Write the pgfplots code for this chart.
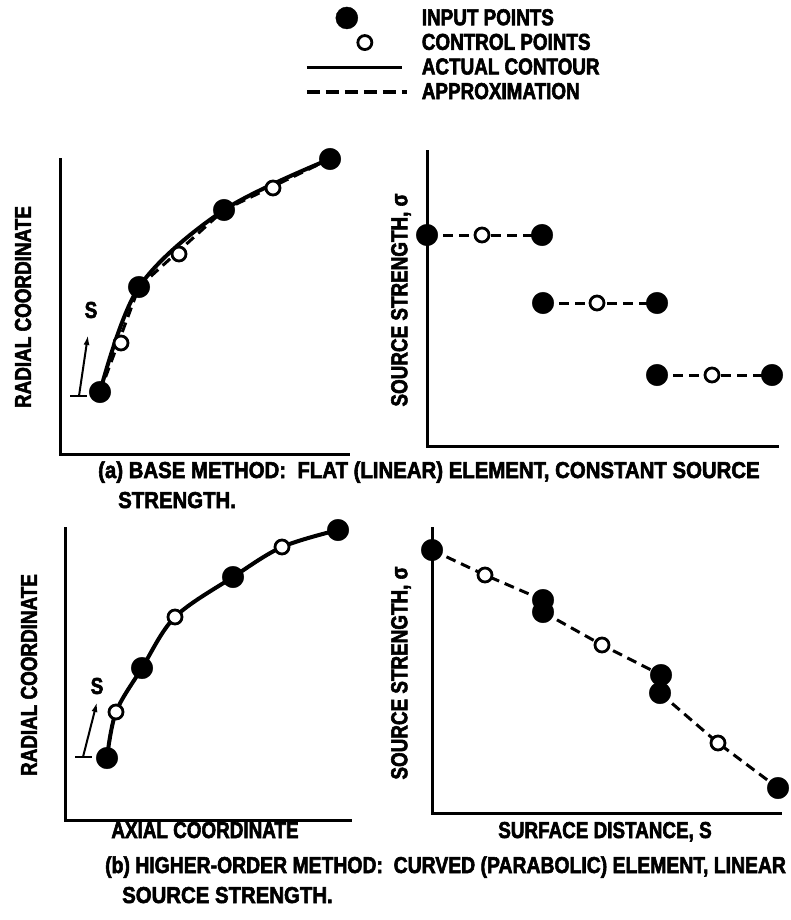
\documentclass[border=0pt]{standalone}
\usepackage{pgfplots}
\pgfplotsset{compat=1.18}
\usepackage{fontspec}
\setmainfont{Liberation Sans}[FakeStretch=0.82, FakeBold=2.5]
\newfontfamily\capfamily{Liberation Sans}[FakeStretch=0.886, FakeBold=2.5]
\usetikzlibrary{arrows.meta}

\newcommand\lab{\fontsize{23}{26}\selectfont\bfseries}
\newcommand\leg{\fontsize{23}{25}\selectfont\bfseries}
\newcommand\capt{\capfamily\fontsize{23}{26}\selectfont\bfseries}

\pgfplotsset{
  panel/.style={scale only axis, axis x line=bottom, axis y line=left,
    axis line style={-, line width=3pt, line cap=rect},
    xtick=\empty, ytick=\empty, clip=false, xmin=0, ymin=0, anchor=south west},
  inpt/.style={only marks, mark=*, mark size=10.8pt,
    mark options={fill=black, draw=black}},
  ctrl/.style={only marks, mark=*, mark size=7pt,
    mark options={fill=white, draw=black, line width=2.8pt}},
  approx/.style={no marks, line width=3pt, dash pattern=on 10pt off 6pt},
  contour/.style={no marks, line width=4pt, smooth, tension=0.55},
}

\begin{document}
\begin{tikzpicture}[x=1pt,y=1pt]
\useasboundingbox (0,0) rectangle (790,-920);

% ---------- (a) flat elements: geometry ----------
\begin{axis}[panel, at={(60pt,-454pt)}, width=288pt, height=294pt,
  xmax=288, ymax=294,
  legend style={at={(0.851,1.525)}, anchor=north west, draw=none, fill=none,
    inner sep=0pt, outer sep=0pt, row sep=0pt, font=\leg},
  legend cell align=left]
\addlegendimage{legend image code/.code={\path[draw=none] (0pt,-12.3pt) rectangle (113pt,12.3pt);
  \fill[black] (40pt,0pt) circle (11pt);}}
\addlegendentry{INPUT POINTS}
\addlegendimage{legend image code/.code={\path[draw=none] (0pt,-12.3pt) rectangle (113pt,12.3pt);
  \draw[line width=2.8pt, fill=white] (58pt,0pt) circle (7pt);}}
\addlegendentry{CONTROL POINTS}
\addlegendimage{legend image code/.code={\path[draw=none] (0pt,-12.3pt) rectangle (113pt,12.3pt);
  \draw[line width=3pt] (0pt,0pt) -- (95pt,0pt);}}
\addlegendentry{ACTUAL CONTOUR}
\addlegendimage{legend image code/.code={\path[draw=none] (0pt,-12.3pt) rectangle (113pt,12.3pt);
  \draw[line width=3.5pt, dash pattern=on 13pt off 6pt] (0pt,0pt) -- (100pt,0pt);}}
\addlegendentry{APPROXIMATION}
% actual contour
\addplot[contour] table {
x y
40 62
79 167
164 244
270 295
};
% flat-element approximation
\addplot[approx] table {
x y
40 62
79 167
164 244
270 295
};
\addplot[ctrl] table {
x y
61 111
119 200
213 266
};
\addplot[inpt] table {
x y
40 62
79 167
164 244
270 295
};
\draw[line width=2pt] (axis cs:10,58) -- (axis cs:27,58);
\draw[line width=2pt, -{Latex[length=10pt,width=6pt]}] (axis cs:19,58) -- (axis cs:28,119);
\node[font=\lab] at (axis cs:31,144) {S};
\end{axis}

% ---------- (a) constant source strength ----------
\begin{axis}[panel, at={(427pt,-446pt)}, width=350pt, height=294pt,
  xmax=350, ymax=294]
\addplot[approx] table {
x y
0 211
115 211
};
\addplot[approx] table {
x y
116 143
230 143
};
\addplot[approx] table {
x y
230 71
345 71
};
\addplot[ctrl] table {
x y
55 211
170 143
285 71
};
\addplot[inpt] table {
x y
0 211
115 211
116 143
230 143
230 71
345 71
};
\end{axis}

% ---------- (b) curved elements: geometry ----------
\begin{axis}[panel, at={(65pt,-820pt)}, width=285pt, height=292pt,
  xmax=285, ymax=292]
\addplot[contour] table {
x y
42 62
51 108
77 152
110 203
168 243
217 273
273 290
};
\addplot[approx, smooth, tension=0.55] table {
x y
42 62
51 108
77 152
110 203
168 243
217 273
273 290
};
\addplot[ctrl] table {
x y
51 108
110 203
217 273
};
\addplot[inpt] table {
x y
42 62
77 152
168 243
273 290
};
\draw[line width=2pt] (axis cs:10,63) -- (axis cs:27,63);
\draw[line width=2pt, -{Latex[length=10pt,width=6pt]}] (axis cs:18,63) -- (axis cs:32,118);
\node[font=\lab] at (axis cs:32,134) {S};
\end{axis}

% ---------- (b) linear source strength ----------
\begin{axis}[panel, at={(432pt,-813pt)}, width=348pt, height=285pt,
  xmax=348, ymax=285]
\addplot[approx] table {
x y
0 263
53 238
111 213
};
\addplot[approx] table {
x y
111 201
170 168
229 138
};
\addplot[approx] table {
x y
228 120
286 70
346 25
};
\addplot[ctrl] table {
x y
53 238
170 168
286 70
};
\addplot[inpt] table {
x y
0 263
111 213
111 201
229 138
228 120
346 25
};
\end{axis}

% ---------- axis titles ----------
\node[font=\lab, rotate=90] at (23,-307) {RADIAL COORDINATE};
\node[font=\lab, rotate=90] at (29,-675) {RADIAL COORDINATE};
\node[font=\lab, rotate=90] at (401,-300) {SOURCE STRENGTH, σ};
\node[font=\lab, rotate=90] at (401,-673) {SOURCE STRENGTH, σ};
\node[font=\lab, anchor=base] at (205,-838) {AXIAL COORDINATE};
\node[font=\lab, anchor=base] at (605,-838) {SURFACE DISTANCE, S};

% ---------- captions ----------
\node[font=\capt, anchor=base west, inner sep=0pt] at (98,-478)
  {(a) BASE METHOD:\ \ FLAT (LINEAR) ELEMENT, CONSTANT SOURCE};
\node[font=\capt, anchor=base west, inner sep=0pt] at (118,-508) {STRENGTH.};
\node[font=\capt, anchor=base west, inner sep=0pt] at (105,-873)
  {\scalebox{0.951}[1]{(b) HIGHER-ORDER METHOD:\ \ CURVED (PARABOLIC) ELEMENT, LINEAR}};
\node[font=\capt, anchor=base west, inner sep=0pt] at (122,-903) {SOURCE STRENGTH.};
\end{tikzpicture}
\end{document}
